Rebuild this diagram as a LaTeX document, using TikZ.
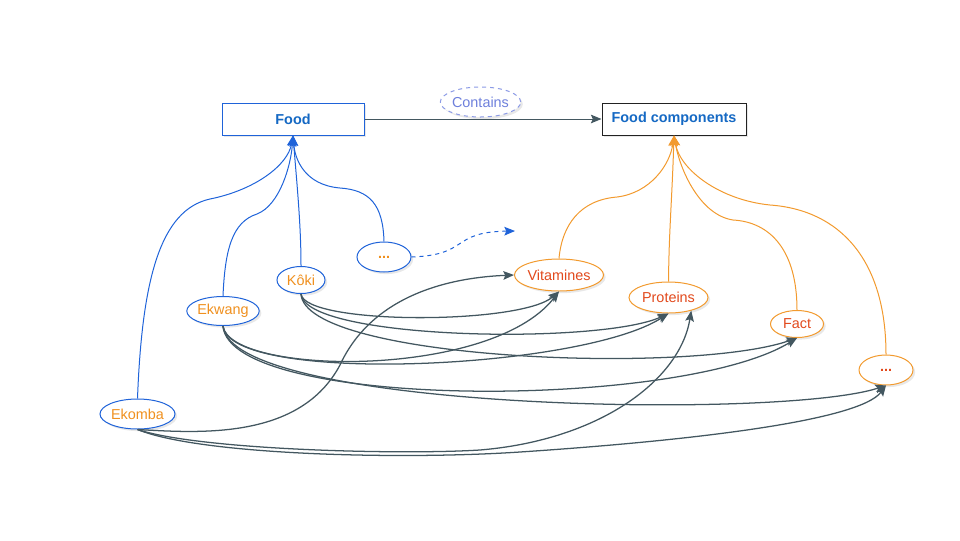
\documentclass[tikz,border=0pt]{standalone}
\usepackage{fontspec}
\setmainfont{Liberation Sans}
\usetikzlibrary{shapes.geometric,arrows.meta,shadows}

\definecolor{foodblue}{HTML}{1F63D9}
\definecolor{titleblue}{HTML}{1569C4}
\definecolor{darkframe}{HTML}{222222}
\definecolor{paleblue}{HTML}{8C9BE6}
\definecolor{palebluetext}{HTML}{6E80DC}
\definecolor{kitchenorange}{HTML}{F0901E}
\definecolor{partorange}{HTML}{F29A2E}
\definecolor{partred}{HTML}{E2491C}
\definecolor{linkgray}{HTML}{435760}

\tikzset{every picture/.style={line width=0.75pt}}

\tikzset{
  labelfont/.style={font=\fontsize{10.8pt}{13pt}\selectfont},
  softshadow/.style={drop shadow={shadow xshift=1.6pt,shadow yshift=-1.6pt,opacity=0.18}},
  titlebox/.style={draw=#1,rectangle,fill=white,softshadow,inner sep=0pt,minimum height=24pt,
    labelfont,font=\fontsize{10.8pt}{13pt}\selectfont\bfseries,text=titleblue},
  dish/.style={draw=foodblue,ellipse,fill=white,softshadow,inner sep=0pt,labelfont,text=kitchenorange},
  part/.style={draw=partorange,ellipse,fill=white,softshadow,inner sep=0pt,labelfont,text=partred},
  linkarrow/.style={-{Stealth[length=8pt,width=6.5pt,inset=1.5pt]}},
  dishlink/.style={linkarrow,draw=foodblue},
  partlink/.style={linkarrow,draw=partorange},
  graylink/.style={linkarrow,draw=linkgray,line width=0.95pt}
}

\begin{document}
\begin{tikzpicture}[x=0.75pt,y=0.75pt,yscale=-1,xscale=1]
\path[use as bounding box] (0,0) rectangle (960,540);

% Title boxes
\node [titlebox=foodblue,minimum width=106.5pt] (food) at (293,119) {Food};
\node [titlebox=darkframe,minimum width=108pt] (comp) at (674,119) {Food components};
\node [draw=paleblue,dashed,ellipse,fill=white,softshadow,inner sep=0pt,minimum width=56.25pt,minimum height=22.5pt,labelfont,text=palebluetext] (contains) at (480.5,102) {Contains};
\draw [linkarrow,draw=linkgray] (food.east) -- (comp.west);

% Dishes
\node [dish,minimum width=56.25pt,minimum height=22.5pt] (ekomba) at (137.5,414) {Ekomba};
\node [dish,minimum width=54pt,minimum height=21.75pt] (ekwang) at (223,311) {Ekwang};
\node [dish,minimum width=36pt,minimum height=20.25pt] (koki) at (301,280) {Kôki};
\node [dish,minimum width=40.5pt,minimum height=22.5pt] (moredish) at (384,257) {\textbf{...}};

% Components
\node [part,minimum width=60pt,minimum height=24pt] (vit) at (559,275) {Vitamines};
\node [part,minimum width=59.25pt,minimum height=23.25pt] (prot) at (668.5,297.5) {Proteins};
\node [part,minimum width=39.75pt,minimum height=20.25pt] (fact) at (797,324) {Fact};
\node [part,minimum width=40.5pt,minimum height=22.5pt] (morepart) at (886,370) {\textbf{...}};

% Dish -> Food
\draw [dishlink] (ekomba.north) .. controls (142,280) and (160,210) .. (210,199) .. controls (255,190) and (288,165) .. (food.south);
\draw [dishlink] (ekwang.north) .. controls (225,250) and (232,222) .. (257,214) .. controls (280,205) and (291,165) .. (food.south);
\draw [dishlink] (koki.north) .. controls (301,225) and (297,185) .. (food.south);
\draw [dishlink] (moredish.north) .. controls (383,205) and (370,190) .. (340,188) .. controls (305,185) and (295,160) .. (food.south);

% Component -> Food components
\draw [partlink] (vit.north) .. controls (562,225) and (580,200) .. (617,197) .. controls (650,193) and (670,165) .. (comp.south);
\draw [partlink] (prot.north) .. controls (669,230) and (672,200) .. (comp.south);
\draw [partlink] (fact.north) .. controls (797,250) and (770,222) .. (733,220) .. controls (700,215) and (680,170) .. (comp.south);
\draw [partlink] (morepart.north) .. controls (886,260) and (840,210) .. (770,205) .. controls (720,200) and (680,170) .. (comp.south);

% Open end
\coordinate (openend) at (515,231);
\draw [dishlink,dashed] (moredish.east) .. controls (470,255) and (450,232) .. (openend);

% Kôki links
\draw [graylink] (koki.south) .. controls (305,325) and (520,325) .. (vit.south);
\draw [graylink] (koki.south) .. controls (305,340) and (600,345) .. (prot.south);
\draw [graylink] (koki.south) .. controls (305,360) and (690,375) .. (fact.south);

% Ekwang links
\draw [graylink] (ekwang.south) .. controls (230,375) and (490,380) .. (vit.south);
\draw [graylink] (ekwang.south) .. controls (230,385) and (580,370) .. (prot.south);
\draw [graylink] (ekwang.south) .. controls (230,410) and (680,410) .. (fact.south);
\draw [graylink] (ekwang.south) .. controls (230,410) and (780,420) .. (morepart.south);

% Ekomba links
\draw [graylink] (ekomba.south) .. controls (200,433) and (300,440) .. (340,365) .. controls (370,300) and (440,278) .. (vit.west);
\draw [graylink] (ekomba.south) .. controls (200,450) and (400,455) .. (480,450) .. controls (600,440) and (680,380) .. (prot.-30);
\draw [graylink] (ekomba.south) .. controls (200,455) and (400,460) .. (520,452) .. controls (700,440) and (860,420) .. (morepart.south);
\end{tikzpicture}
\end{document}
